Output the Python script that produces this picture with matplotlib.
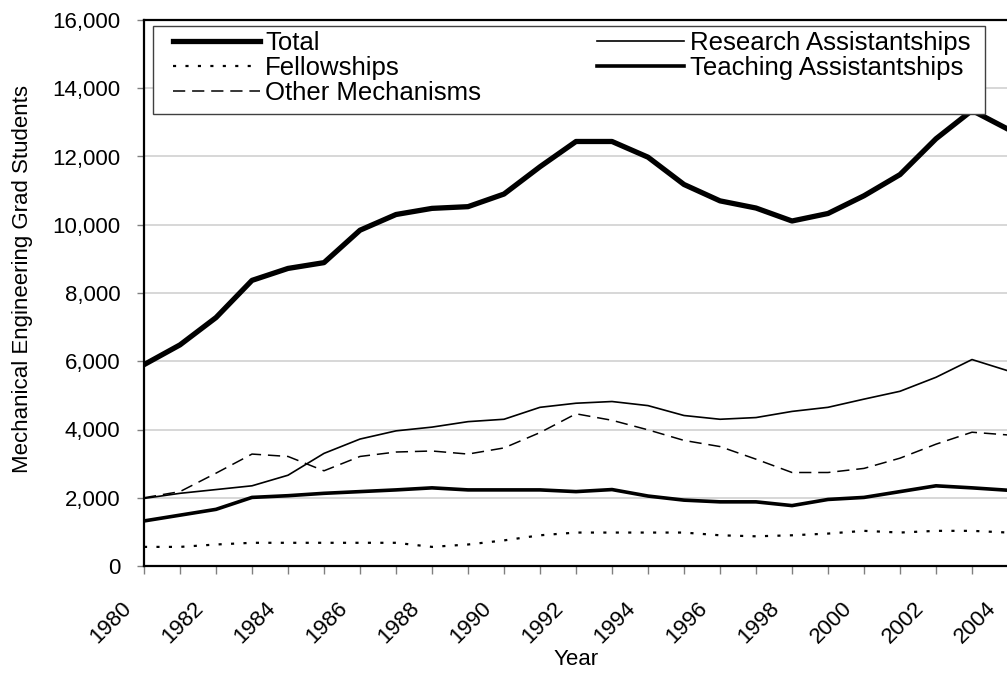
import numpy as np
import matplotlib
matplotlib.use("Agg")
import matplotlib.pyplot as plt
from matplotlib.patches import Rectangle
from matplotlib.ticker import FuncFormatter
from matplotlib.transforms import ScaledTranslation

plt.rcParams['font.family'] = ['Liberation Sans', 'DejaVu Sans']

years = list(range(1980, 2005))
total = [5900, 6480, 7280, 8370, 8720, 8890, 9840, 10300, 10480, 10530, 10900, 11700, 12440,
         12440, 11980, 11180, 10700, 10490, 10110, 10330, 10850, 11470, 12520, 13350, 12800]
research = [1980, 2130, 2240, 2350, 2660, 3300, 3720, 3960, 4070, 4230, 4300, 4650, 4770,
            4820, 4700, 4410, 4300, 4350, 4530, 4650, 4890, 5120, 5530, 6050, 5720]
fellowships = [560, 560, 630, 680, 680, 680, 680, 680, 560, 630, 750, 900, 980,
               980, 980, 980, 900, 870, 900, 950, 1030, 980, 1030, 1030, 980]
teaching = [1320, 1490, 1660, 2010, 2060, 2130, 2180, 2230, 2290, 2230, 2230, 2230, 2180,
            2240, 2050, 1930, 1880, 1880, 1770, 1950, 2010, 2180, 2350, 2290, 2220]
other = [2000, 2180, 2720, 3280, 3210, 2790, 3210, 3340, 3370, 3280, 3460, 3910, 4460,
         4270, 3990, 3680, 3500, 3130, 2740, 2740, 2860, 3160, 3570, 3920, 3840]

fig = plt.figure(figsize=(10.07, 6.77), dpi=100)
ax = fig.add_axes([144 / 1007, 111 / 677, 864 / 1007, 546 / 677])

kw = dict(color='black', solid_joinstyle='round', dash_joinstyle='round')
l_total, = ax.plot(years, total, lw=3.8, label='Total', **kw)
l_fel, = ax.plot(years, fellowships, lw=1.6, dashes=(1.4, 4.2), label='Fellowships', **kw)
l_oth, = ax.plot(years, other, lw=1.1, dashes=(8, 4.5), label='Other Mechanisms', **kw)
l_res, = ax.plot(years, research, lw=1.2, label='Research Assistantships', **kw)
l_tea, = ax.plot(years, teaching, lw=2.6, label='Teaching Assistantships', **kw)

ax.set_xlim(1980, 2004)
ax.set_ylim(0, 16000)
ax.set_yticks(np.arange(0, 16001, 2000))
ax.yaxis.set_major_formatter(FuncFormatter(lambda v, p: f'{v:,.0f}'))
ax.grid(axis='y', color='#d4d4d4', lw=1.3)
ax.set_axisbelow(True)

ax.set_xticks(years)
ax.set_xticklabels([str(y) if y % 2 == 0 else '' for y in years],
                   rotation=45, ha='right', va='top')

ax.tick_params(axis='x', direction='out', length=6, width=1, color='#808080',
               labelsize=16, pad=17)
ax.tick_params(axis='y', direction='out', length=5, width=1, color='#808080',
               labelsize=16, pad=12)

# nudge the slanted year labels left (after tick_params, which resets transforms)
for lab in ax.get_xticklabels():
    lab.set_transform(lab.get_transform() + ScaledTranslation(-0.08, 0, fig.dpi_scale_trans))

for s in ['left', 'top', 'bottom']:
    ax.spines[s].set_linewidth(1.6)
    ax.spines[s].set_color('black')
ax.spines['right'].set_visible(False)

ax.set_ylabel('Mechanical Engineering Grad Students', fontsize=16)
ax.yaxis.set_label_coords(-0.128, 0.526)
ax.set_xlabel('Year', fontsize=16)
ax.xaxis.set_label_coords(0.5, -0.152)

# legend box drawn separately so the entries can sit inside it like the original
box = Rectangle((0.0104, 0.828), 0.963, 0.161, transform=ax.transAxes,
                facecolor='white', edgecolor='#404040', lw=1.0, zorder=9)
ax.add_patch(box)
leg = ax.legend(handles=[l_total, l_fel, l_oth, l_res, l_tea], ncol=2, mode='expand',
                bbox_to_anchor=(0.0336, 0.8, 0.9225, 0.18), loc='upper left',
                borderaxespad=0, fontsize=18.5, handlelength=3.39, handletextpad=0.2,
                labelspacing=0.05, borderpad=0, frameon=False)
leg.set_zorder(10)

fig.savefig('out.png', dpi=100)
